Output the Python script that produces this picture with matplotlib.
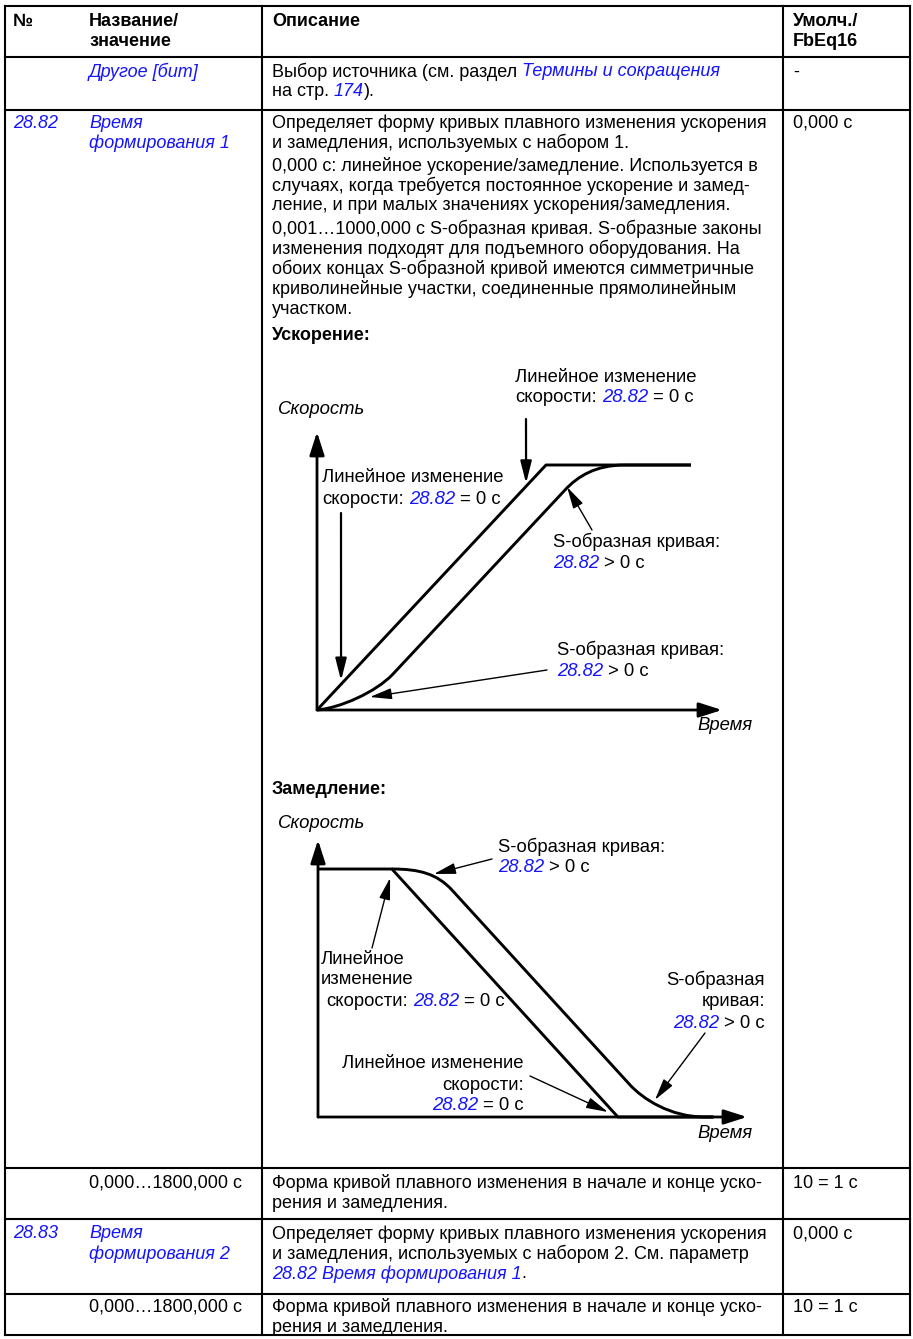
import matplotlib
matplotlib.use('Agg')
import matplotlib.pyplot as plt
from matplotlib.path import Path
from matplotlib.patches import PathPatch

plt.rcParams['font.family'] = ['Liberation Sans', 'DejaVu Sans']

# Данные: тексты таблицы
header_no = '№'
header_name = ['Название/', 'значение']
header_desc = 'Описание'
header_def = ['Умолч./', 'FbEq16']

# строки описания: список строк, каждая строка - список (текст, стиль)
# стили: n - обычный, b - жирный, i - курсив, L - синяя ссылка (курсив)
row_other_name = [[('Другое [бит]', 'L')]]
row_other_desc = [[('Выбор источника (см. раздел ', 'n'), ('Термины и сокращения', 'L')],
                  [('на стр. ', 'n'), ('174', 'L'), (').', 'n')]]
row_other_def = '-'

p1_no = '28.82'
p1_name = ['Время', 'формирования 1']
p1_desc = ['Определяет форму кривых плавного изменения ускорения',
           'и замедления, используемых с набором 1.',
           '0,000 с: линейное ускорение/замедление. Используется в',
           'случаях, когда требуется постоянное ускорение и замед-',
           'ление, и при малых значениях ускорения/замедления.',
           '0,001…1000,000 с S-образная кривая. S-образные законы',
           'изменения подходят для подъемного оборудования. На',
           'обоих концах S-образной кривой имеются симметричные',
           'криволинейные участки, соединенные прямолинейным',
           'участком.']
p1_def = '0,000 с'

range_name = '0,000…1800,000 с'
range_desc = ['Форма кривой плавного изменения в начале и конце уско-',
              'рения и замедления.']
range_def = '10 = 1 с'

p2_no = '28.83'
p2_name = ['Время', 'формирования 2']
p2_desc = [[('Определяет форму кривых плавного изменения ускорения', 'n')],
           [('и замедления, используемых с набором 2. См. параметр', 'n')],
           [('28.82 Время формирования 1', 'L'), ('.', 'n')]]
p2_def = '0,000 с'

# Данные: профили скорости (время в единицах длительности рампы, скорость в долях максимума)
# ускорение
accel_lin_t = [0.0, 1.0, 1.633]
accel_lin_v = [0.0, 1.0, 1.0]
accel_s_t = [0.0, 0.100, 0.258, 0.332, 1.083, 1.140, 1.218, 1.345, 1.633]
accel_s_v = [0.0, 0.008, 0.073, 0.147, 0.898, 0.955, 1.0, 1.0, 1.0]
# замедление
decel_lin_t = [0.0, 0.327, 1.327, 1.75]
decel_lin_v = [1.0, 1.0, 0.0, 0.0]
decel_s_t = [0.327, 0.451, 0.527, 0.593, 1.381, 1.438, 1.558, 1.712, 1.75]
decel_s_v = [1.0, 1.0, 0.980, 0.915, 0.129, 0.073, 0.0, 0.0, 0.0]
# коды кривых Безье для S-образных профилей
s_codes = [Path.MOVETO, Path.CURVE4, Path.CURVE4, Path.CURVE4, Path.LINETO,
           Path.CURVE4, Path.CURVE4, Path.CURVE4, Path.LINETO]

lbl_lin = 'Линейное изменение'
lbl_speed = 'скорости: '
lbl_s = 'S-образная кривая:'
lbl_par = '28.82'

##############################################################################
W, H = 913, 1339
BLUE = '#1414ff'
BODY = 13.0
DIAG = 13.3

fig = plt.figure(figsize=(W / 100, H / 100), dpi=100)
page = fig.add_axes([0, 0, 1, 1])
page.set_xlim(0, W)
page.set_ylim(H, 0)
page.axis('off')
renderer = fig.canvas.get_renderer()

STY = {'n': dict(color='black'),
       'b': dict(color='black', fontweight='bold'),
       'i': dict(color='black', fontstyle='italic'),
       'L': dict(color=BLUE, fontstyle='italic')}


def measure(s, size, st):
    t = page.text(0, 0, s, fontsize=size, **STY[st])
    w = t.get_window_extent(renderer).width
    t.remove()
    return w


def space(size, st):
    return measure('н н', size, st) - measure('нн', size, st)


def line(x, y, parts, size=BODY, ha='left'):
    if isinstance(parts, str):
        parts = [(parts, 'n')]
    items = []
    total = 0
    for s, st in parts:
        core = s.strip(' ')
        lead = len(s) - len(s.lstrip(' '))
        trail = len(s) - len(s.rstrip(' '))
        sp = space(size, st) if (lead or trail) else 0
        w = measure(core, size, st) if core else 0
        items.append((core, st, total + lead * sp))
        total += lead * sp + w + trail * sp
    if ha == 'right':
        x -= total
    for core, st, off in items:
        if core:
            page.text(x + off, y, core, fontsize=size, va='center', ha='left', **STY[st])


# Сетка таблицы
X0, XC, XD, X1 = 5, 262, 783, 910
rows_y = [6, 57, 110, 1168, 1219, 1294, 1335]
for y in rows_y:
    page.plot([X0, X1], [y, y], color='black', lw=1.5, solid_capstyle='projecting')
for x in [X0, XC, XD, X1]:
    page.plot([x, x], [rows_y[0], rows_y[-1]], color='black', lw=1.5, solid_capstyle='projecting')

C1, C2, C3, C4 = 13, 89, 272, 793
LS = 20

# Заголовок
line(C1, 22, [(header_no, 'b')])
for k, s in enumerate(header_name):
    line(C2, 22 + k * LS, [(s, 'b')])
line(C3, 22, [(header_desc, 'b')])
for k, s in enumerate(header_def):
    line(C4, 22 + k * LS, [(s, 'b')])

# Другое [бит]
for k, ln in enumerate(row_other_name):
    line(C2, 72 + k * LS, ln)
for k, ln in enumerate(row_other_desc):
    line(C3, 72 + k * LS, ln)
line(C4, 72, row_other_def)

# 28.82
line(C1, 123, [(p1_no, 'L')])
for k, s in enumerate(p1_name):
    line(C2, 123 + k * LS, [(s, 'L')])
desc_y = [123, 143, 166, 186, 206, 229, 249, 269, 289, 309]
for y, s in zip(desc_y, p1_desc):
    line(C3, y, s)
line(C4, 123, p1_def)

# 0,000…1800,000 с (дважды) и 28.83
for ytop in [1183, 1307]:
    line(C2, ytop, range_name)
    for k, s in enumerate(range_desc):
        line(C3, ytop + k * LS, s)
    line(C4, ytop, range_def)

line(C1, 1234, [(p2_no, 'L')])
for k, s in enumerate(p2_name):
    line(C2, 1234 + k * LS, [(s, 'L')])
for k, ln in enumerate(p2_desc):
    line(C3, 1234 + k * LS, ln)
line(C4, 1234, p2_def)


##############################################################################
# Диаграммы
def diag_axes(xo, yo, xtip, ytip, tunit, vunit):
    ax = fig.add_axes([xo / W, (H - yo) / H, (xtip - xo) / W, (yo - ytip) / H])
    ax.set_xlim(0, (xtip - xo) / tunit)
    ax.set_ylim(0, (yo - ytip) / vunit)
    ax.axis('off')
    big = dict(arrowstyle='-|>,head_length=1.0,head_width=0.32', mutation_scale=14,
               lw=2.0, color='black', shrinkA=0, shrinkB=0)
    ax.annotate('', xy=(ax.get_xlim()[1], 0), xytext=(0, 0), arrowprops=big, annotation_clip=False)
    ax.annotate('', xy=(0, ax.get_ylim()[1]), xytext=(0, 0), arrowprops=big, annotation_clip=False)
    return ax


def arrow(ax, tip, tail, lw=1.0):
    ax.annotate('', xy=tip, xycoords='data', xytext=tail, textcoords=page.transData,
                arrowprops=dict(arrowstyle='-|>,head_length=0.95,head_width=0.24',
                                mutation_scale=14, lw=lw, color='black',
                                shrinkA=0, shrinkB=0),
                annotation_clip=False)


def profile(ax, t, v, codes=None):
    verts = list(zip(t, v))
    path = Path(verts, codes) if codes else Path(verts)
    ax.add_patch(PathPatch(path, fill=False, lw=2.1, edgecolor='black',
                           joinstyle='round', capstyle='butt', clip_on=False))


# Ускорение
line(C3, 335, [('Ускорение:', 'b')])
line(278, 410, [('Скорость', 'i')], size=DIAG)
line(753, 725, [('Время', 'i')], size=DIAG, ha='right')
ax1 = diag_axes(317, 710, 722, 432, 229, 245)
profile(ax1, accel_lin_t, accel_lin_v)
profile(ax1, accel_s_t, accel_s_v, s_codes)

line(515, 377, lbl_lin, size=DIAG)
line(515, 398, [(lbl_speed, 'n'), (lbl_par, 'L'), (' = 0 с', 'n')], size=DIAG)
arrow(ax1, (0.913, 0.925), (526, 419), lw=1.6)

line(322, 478, lbl_lin, size=DIAG)
line(322, 500, [(lbl_speed, 'n'), (lbl_par, 'L'), (' = 0 с', 'n')], size=DIAG)
arrow(ax1, (0.105, 0.12), (341, 513), lw=1.6)

line(553, 542, lbl_s, size=DIAG)
line(553, 563, [(lbl_par, 'L'), (' > 0 с', 'n')], size=DIAG)
arrow(ax1, (1.092, 0.91), (592, 530))

line(557, 650, lbl_s, size=DIAG)
line(557, 672, [(lbl_par, 'L'), (' > 0 с', 'n')], size=DIAG)
arrow(ax1, (0.231, 0.053), (547, 670))

# Замедление
line(C3, 790, [('Замедление:', 'b')])
line(278, 823, [('Скорость', 'i')], size=DIAG)
line(753, 1133, [('Время', 'i')], size=DIAG, ha='right')
ax2 = diag_axes(318, 1117, 747, 840, 226, 248)
profile(ax2, decel_lin_t, decel_lin_v)
profile(ax2, decel_s_t, decel_s_v, s_codes)

line(498, 847, lbl_s, size=DIAG)
line(498, 868, [(lbl_par, 'L'), (' > 0 с', 'n')], size=DIAG)
arrow(ax2, (0.513, 0.98), (492, 859))

line(321, 959, 'Линейное', size=DIAG)
line(321, 980, 'изменение', size=DIAG)
line(326, 1001, [(lbl_speed, 'n'), (lbl_par, 'L'), (' = 0 с', 'n')], size=DIAG)
arrow(ax2, (0.319, 0.964), (372, 948))

line(765, 980, 'S-образная', size=DIAG, ha='right')
line(765, 1002, 'кривая:', size=DIAG, ha='right')
line(765, 1023, [(lbl_par, 'L'), (' > 0 с', 'n')], size=DIAG, ha='right')
arrow(ax2, (1.491, 0.069), (705, 1033))

line(524, 1063, lbl_lin, size=DIAG, ha='right')
line(524, 1085, 'скорости:', size=DIAG, ha='right')
line(524, 1106, [(lbl_par, 'L'), (' = 0 с', 'n')], size=DIAG, ha='right')
arrow(ax2, (1.283, 0.02), (530, 1076))

fig.savefig('out.png', dpi=100)
